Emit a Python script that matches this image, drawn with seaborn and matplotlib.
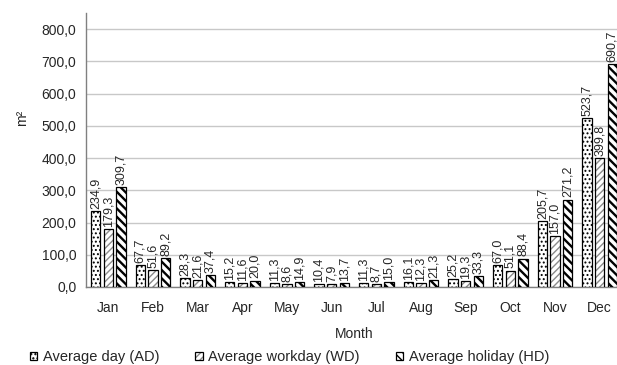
import matplotlib
matplotlib.use("Agg")
import matplotlib.pyplot as plt
import seaborn as sns
import pandas as pd
from matplotlib.ticker import FuncFormatter

months = ["Jan", "Feb", "Mar", "Apr", "May", "Jun", "Jul", "Aug", "Sep", "Oct", "Nov", "Dec"]
series_names = ["Average day (AD)", "Average workday (WD)", "Average holiday (HD)"]
avg_day = [234.9, 67.7, 28.3, 15.2, 11.3, 10.4, 11.3, 16.1, 25.2, 67.0, 205.7, 523.7]
avg_workday = [179.3, 51.6, 21.6, 11.6, 8.6, 7.9, 8.7, 12.3, 19.3, 51.1, 157.0, 399.8]
avg_holiday = [309.7, 89.2, 37.4, 20.0, 14.9, 13.7, 15.0, 21.3, 33.3, 88.4, 271.2, 690.7]

df = pd.DataFrame({
    "Month": months * 3,
    "Series": [series_names[0]] * 12 + [series_names[1]] * 12 + [series_names[2]] * 12,
    "Value": avg_day + avg_workday + avg_holiday,
})


def comma(v):
    return f"{v:.1f}".replace(".", ",")


sns.set_theme(style="white")
plt.rcParams["font.family"] = ["Liberation Sans", "DejaVu Sans"]

fig = plt.figure(figsize=(6.17, 3.65), dpi=100)
ax = fig.add_axes([86 / 617, 1 - 287 / 365, 536 / 617, 274 / 365])

sns.barplot(data=df, x="Month", y="Value", hue="Series", order=months,
            hue_order=series_names, width=0.85, gap=0.25,
            palette=["white", "white", "white"], edgecolor="black",
            linewidth=0.9, legend=False, ax=ax, zorder=3)

# fill pattern, pattern colour, pattern line width per series
styles = [
    ("....", "black", 0.9),
    ("/////", "#8c8c8c", 1.0),
    ("\\\\\\\\", "black", 1.7),
]
for cont, (hatch, hcol, hlw) in zip(ax.containers, styles):
    for p in cont.patches:
        p.set_hatch(hatch)
        p._hatch_color = matplotlib.colors.to_rgba(hcol)
        if hasattr(p, "set_hatch_linewidth"):
            p.set_hatch_linewidth(hlw)
    ax.bar_label(cont, labels=[comma(v) for v in cont.datavalues],
                 rotation=90, padding=1.5, fontsize=9)

ax.set_ylim(0, 850)
ax.set_xlim(-0.5, 11.5)
ax.set_yticks(range(0, 801, 100))
ax.yaxis.set_major_formatter(FuncFormatter(lambda v, _: comma(v)))
ax.grid(axis="y", color="#c8c8c8", linewidth=1.0, zorder=0)
ax.set_axisbelow(True)

ax.set_xticks(range(12))
ax.set_xticklabels(months)
ax.set_xticks([i + 0.5 for i in range(11)], minor=True)
ax.tick_params(axis="x", which="major", length=0, pad=10, labelsize=10)
ax.tick_params(axis="x", which="minor", length=5, width=1, color="#808080", direction="out")
ax.tick_params(axis="y", length=5, width=1, color="#808080", direction="out", labelsize=10, pad=2)

for side in ["top", "right"]:
    ax.spines[side].set_visible(False)
for side in ["left", "bottom"]:
    ax.spines[side].set_color("#808080")
    ax.spines[side].set_linewidth(1.0)

ax.set_xlabel("Month", fontsize=10, labelpad=9)
ax.set_ylabel("m²", fontsize=10)
ax.yaxis.set_label_coords(-0.106, 0.617)

ax.legend(ax.containers, series_names, loc="lower left", bbox_to_anchor=(30 / 617, 0.002),
          bbox_transform=fig.transFigure, ncol=3, frameon=False, fontsize=10.5,
          handlelength=0.5, handleheight=0.5, handletextpad=0.4, columnspacing=2.45,
          borderaxespad=0.0, borderpad=0.0)

fig.savefig("out.png", dpi=100)
